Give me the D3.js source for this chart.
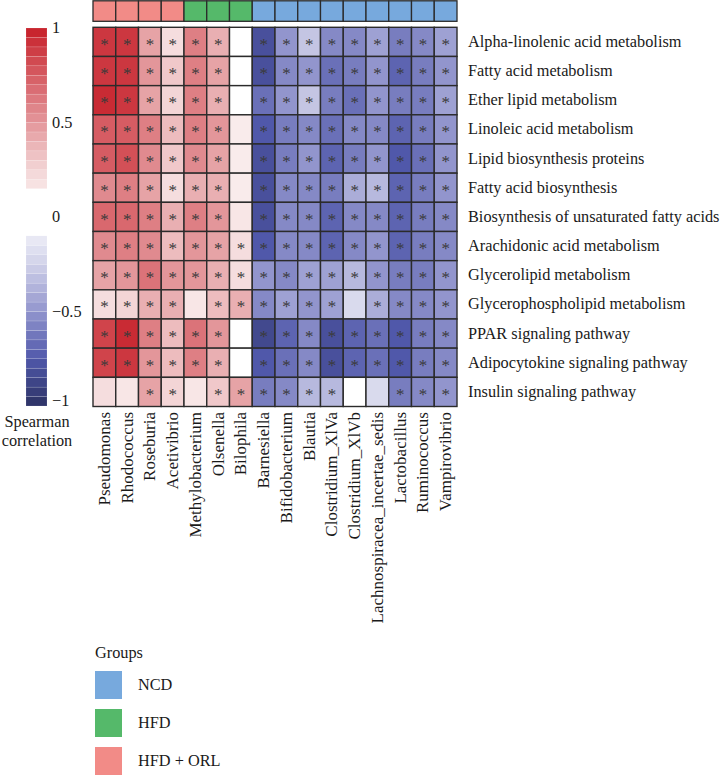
<!DOCTYPE html>
<html><head><meta charset="utf-8">
<script src="https://cdn.jsdelivr.net/npm/d3@7"></script>
<style>body{margin:0;background:#fff}svg{display:block}text{font-family:"Liberation Serif","DejaVu Serif",serif;fill:#1a1a1a}</style>
</head><body>
<svg id="c" width="723" height="775"></svg>
<script>
const genera = ["Pseudomonas","Rhodococcus","Roseburia","Acetivibrio","Methylobacterium","Olsenella","Bilophila","Barnesiella","Bifidobacterium","Blautia","Clostridium_XlVa","Clostridium_XlVb","Lachnospiracea_incertae_sedis","Lactobacillus","Ruminococcus","Vampirovibrio"];
const groupOf = ["HFD + ORL","HFD + ORL","HFD + ORL","HFD + ORL","HFD","HFD","HFD","NCD","NCD","NCD","NCD","NCD","NCD","NCD","NCD","NCD"];
const pathways = ["Alpha-linolenic acid metabolism","Fatty acid metabolism","Ether lipid metabolism","Linoleic acid metabolism","Lipid biosynthesis proteins","Fatty acid biosynthesis","Biosynthesis of unsaturated fatty acids","Arachidonic acid metabolism","Glycerolipid metabolism","Glycerophospholipid metabolism","PPAR signaling pathway","Adipocytokine signaling pathway","Insulin signaling pathway"];
const rho = [
 [0.90,0.90,0.45,0.20,0.60,0.40,0.00,-0.80,-0.50,-0.30,-0.55,-0.55,-0.45,-0.60,-0.55,-0.45],
 [0.90,0.90,0.50,0.30,0.60,0.45,0.00,-0.80,-0.55,-0.50,-0.65,-0.60,-0.50,-0.70,-0.60,-0.50],
 [0.95,0.90,0.45,0.25,0.60,0.40,0.00,-0.65,-0.50,-0.30,-0.60,-0.65,-0.50,-0.60,-0.60,-0.45],
 [0.75,0.75,0.60,0.35,0.60,0.50,0.12,-0.75,-0.60,-0.55,-0.65,-0.55,-0.55,-0.70,-0.60,-0.50],
 [0.75,0.80,0.55,0.30,0.55,0.45,0.12,-0.80,-0.60,-0.50,-0.70,-0.60,-0.50,-0.75,-0.65,-0.50],
 [0.55,0.60,0.45,0.20,0.40,0.40,0.12,-0.80,-0.55,-0.55,-0.60,-0.40,-0.35,-0.70,-0.60,-0.50],
 [0.70,0.70,0.60,0.40,0.60,0.50,0.15,-0.80,-0.55,-0.55,-0.70,-0.55,-0.55,-0.70,-0.60,-0.55],
 [0.55,0.60,0.55,0.35,0.50,0.45,0.20,-0.75,-0.55,-0.55,-0.70,-0.55,-0.50,-0.70,-0.60,-0.55],
 [0.45,0.50,0.65,0.50,0.50,0.40,0.20,-0.50,-0.55,-0.45,-0.45,-0.35,-0.50,-0.60,-0.60,-0.50],
 [0.20,0.25,0.40,0.40,0.15,0.35,0.40,-0.55,-0.45,-0.50,-0.45,-0.20,-0.40,-0.55,-0.55,-0.50],
 [0.85,0.95,0.60,0.35,0.65,0.50,0.00,-0.85,-0.70,-0.55,-0.80,-0.70,-0.65,-0.75,-0.60,-0.55],
 [0.85,0.90,0.50,0.35,0.60,0.40,0.00,-0.75,-0.65,-0.55,-0.80,-0.70,-0.65,-0.75,-0.60,-0.55],
 [0.20,0.15,0.45,0.25,0.15,0.30,0.45,-0.60,-0.55,-0.35,-0.35,0.00,-0.20,-0.60,-0.55,-0.50]
];
const sig = [
 [1,1,1,1,1,1,0,1,1,1,1,1,1,1,1,1],
 [1,1,1,1,1,1,0,1,1,1,1,1,1,1,1,1],
 [1,1,1,1,1,1,0,1,1,1,1,1,1,1,1,1],
 [1,1,1,1,1,1,0,1,1,1,1,1,1,1,1,1],
 [1,1,1,1,1,1,0,1,1,1,1,1,1,1,1,1],
 [1,1,1,1,1,1,0,1,1,1,1,1,1,1,1,1],
 [1,1,1,1,1,1,0,1,1,1,1,1,1,1,1,1],
 [1,1,1,1,1,1,1,1,1,1,1,1,1,1,1,1],
 [1,1,1,1,1,1,1,1,1,1,1,1,1,1,1,1],
 [1,1,1,1,0,1,1,1,1,1,1,0,1,1,1,1],
 [1,1,1,1,1,1,0,1,1,1,1,1,1,1,1,1],
 [1,1,1,1,1,1,0,1,1,1,1,1,1,1,1,1],
 [0,0,1,1,0,1,1,1,1,1,1,0,0,1,1,1]
];
const groups = ["NCD","HFD","HFD + ORL"];
const groupColors = ["#77a9dd","#55b96a","#f28b87"];
const legendTicks = [1,0.5,0,-0.5,-1];

const svg = d3.select("#c");
const FS = "16.3px";
const posColor = d3.scaleLinear().domain([0,0.25,0.5,0.75,1]).range(["#ffffff","#f3d5d6","#e3969a","#d65c63","#c61f28"]);
const negColor = d3.scaleLinear().domain([-1,-0.75,-0.5,-0.25,0]).range(["#2c3264","#5058aa","#9295cd","#d0d1e9","#ffffff"]);
const color = v => v >= 0 ? posColor(v) : negColor(v);
const gColor = d3.scaleOrdinal().domain(groups).range(groupColors);

const x = d3.scaleBand().domain(genera).range([93, 457]);
const y = d3.scaleBand().domain(pathways).range([27.3, 406.5]);

// top annotation
svg.append("g").selectAll("rect").data(genera).join("rect")
  .attr("x", d => x(d)).attr("y", 0.8).attr("width", x.bandwidth()).attr("height", 20.5)
  .attr("fill", (d,i) => gColor(groupOf[i])).attr("stroke", "#2b2b2b").attr("stroke-width", 1.3);

// cells
const cells = [];
rho.forEach((r,i) => r.forEach((v,j) => cells.push({row: pathways[i], col: genera[j], v, s: sig[i][j]})));
const g = svg.append("g");
g.selectAll("rect").data(cells).join("rect")
  .attr("x", d => x(d.col)).attr("y", d => y(d.row))
  .attr("width", x.bandwidth()).attr("height", y.bandwidth())
  .attr("fill", d => color(d.v)).attr("stroke", "#2b2b2b").attr("stroke-width", 1.4);
g.selectAll("text").data(cells.filter(d => d.s)).join("text")
  .attr("x", d => x(d.col) + x.bandwidth()/2).attr("y", d => y(d.row) + y.bandwidth()/2 + 8)
  .attr("text-anchor", "middle").style("font-size", "17px").style("fill", "#3a3a3a").text("*");

// row labels
svg.append("g").selectAll("text").data(pathways).join("text")
  .attr("x", 468).attr("y", d => y(d) + y.bandwidth()/2 + 5)
  .style("font-size", FS).text(d => d);

// column labels
svg.append("g").selectAll("text").data(genera).join("text")
  .attr("transform", d => `translate(${x(d) + x.bandwidth()/2 + 5.5},412) rotate(-90)`)
  .attr("text-anchor", "end").style("font-size", "17px").text(d => d);

// colour bar
const ly = d3.scaleLinear().domain([-1,1]).range([406, 28]);
const posBins = d3.range(3, 20).map(k => [k*0.05, (k+1)*0.05]);
const negBins = d3.range(-20, -2).map(k => [k*0.05, (k+1)*0.05]);
const cb = svg.append("g");
cb.selectAll("rect").data(posBins.concat(negBins)).join("rect")
  .attr("x", 26).attr("width", 21)
  .attr("y", d => ly(d[1])).attr("height", d => ly(d[0]) - ly(d[1]))
  .attr("fill", d => color((d[0]+d[1])/2)).attr("stroke", "rgba(255,255,255,0.25)").attr("stroke-width", 0.5);
cb.selectAll("text").data(legendTicks).join("text")
  .attr("x", 52).attr("y", d => ly(d) + (d === -1 ? 0 : 5))
  .style("font-size", FS).text(d => d3.format("")(d).replace("-", "\u2212"));
svg.append("text").attr("x", 37).attr("y", 427).attr("text-anchor","middle").style("font-size",FS).text("Spearman");
svg.append("text").attr("x", 37).attr("y", 446).attr("text-anchor","middle").style("font-size",FS).text("correlation");

// group legend
const lg = svg.append("g");
lg.append("text").attr("x", 95).attr("y", 658).style("font-size",FS).text("Groups");
lg.selectAll("rect").data(groups).join("rect")
  .attr("x", 95).attr("y", (d,i) => 671 + i*38).attr("width", 27).attr("height", 28)
  .attr("fill", d => gColor(d));
lg.selectAll("text.l").data(groups).join("text").attr("class","l")
  .attr("x", 138).attr("y", (d,i) => 690 + i*38).style("font-size",FS).text(d => d);
</script>
</body></html>
